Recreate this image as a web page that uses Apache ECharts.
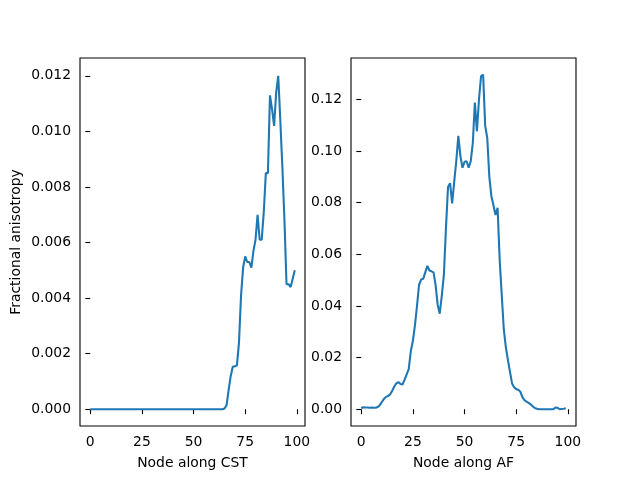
<!DOCTYPE html>
<html>
<head>
<meta charset="utf-8">
<script src="https://cdn.jsdelivr.net/npm/echarts@6/dist/echarts.min.js"></script>
<style>html,body{margin:0;padding:0;background:#fff}#c{width:640px;height:480px}</style>
</head>
<body>
<div id="c"></div>
<script>
const nodes = Array.from({length: 100}, (_, i) => i);
const xTicks = [0, 25, 50, 75, 100];
const cstTicks = [0, 0.002, 0.004, 0.006, 0.008, 0.010, 0.012];
const afTicks = [0, 0.02, 0.04, 0.06, 0.08, 0.10, 0.12];
const cstValues = [
  0,0,0,0,0,0,0,0,0,0,
  0,0,0,0,0,0,0,0,0,0,
  0,0,0,0,0,0,0,0,0,0,
  0,0,0,0,0,0,0,0,0,0,
  0,0,0,0,0,0,0,0,0,0,
  0,0,0,0,0,0,0,0,0,0,
  0,0,0,0,0,0.00003,0.00015,0.0007,0.0012,0.00153,
  0.00155,0.00158,0.0024,0.0041,0.0051,0.0055,0.0053,0.0053,0.0051,0.0057,
  0.0061,0.0070,0.0061,0.0061,0.0071,0.0085,0.0085,0.0113,0.0108,0.0102,
  0.0114,0.0120,0.0104,0.0087,0.0068,0.0045,0.0045,0.0044,0.0047,0.0050
];
const afValues = [
  0.0004,0.0008,0.0007,0.0007,0.0006,0.0007,0.0006,0.0006,0.0009,0.0016,
  0.0028,0.0040,0.0048,0.0051,0.0058,0.0072,0.0088,0.0100,0.0105,0.0098,
  0.0096,0.0115,0.0135,0.0155,0.0225,0.0265,0.0325,0.0400,0.0482,0.0502,
  0.0505,0.0530,0.0555,0.0537,0.0534,0.0530,0.0480,0.0405,0.0370,0.0440,
  0.0520,0.0700,0.0860,0.0875,0.0797,0.0880,0.0960,0.1058,0.0980,0.0935,
  0.0958,0.0960,0.0935,0.0960,0.1030,0.1187,0.1076,0.1200,0.1290,0.1295,
  0.1097,0.1050,0.0900,0.0825,0.0790,0.0752,0.0780,0.0580,0.0444,0.0310,
  0.0240,0.0190,0.0145,0.0100,0.0085,0.0078,0.0076,0.0068,0.0047,0.0035,
  0.0030,0.0025,0.0019,0.0012,0.0005,0.0002,0,0,0,0,
  0,0,0,0,0.0007,0.0006,0,0.0001,0.0002,0.0004
];

const font = 'DejaVu Sans';
const fs = 13.9;
function xAxis(idx, name) {
  return {
    type: 'value', gridIndex: idx, min: -4.95, max: 103.95,
    name: name, nameLocation: 'middle', nameGap: 30,
    nameTextStyle: {fontFamily: font, fontSize: fs, color: '#000'},
    axisLine: {show: false},
    axisTick: {show: true, length: 4.9, lineStyle: {color: '#000', width: 1.1}, customValues: xTicks},
    axisLabel: {fontFamily: font, fontSize: fs, color: '#000', margin: 9, customValues: xTicks},
    splitLine: {show: false}
  };
}
function yAxis(idx, min, max, ticks, digits, name) {
  return {
    type: 'value', gridIndex: idx, min: min, max: max,
    name: name || '', nameLocation: 'middle', nameGap: 57,
    nameTextStyle: {fontFamily: font, fontSize: fs, color: '#000'},
    axisLine: {show: false},
    axisTick: {show: true, length: 4.9, lineStyle: {color: '#000', width: 1.1}, customValues: ticks},
    axisLabel: {fontFamily: font, fontSize: fs, color: '#000', margin: 9, customValues: ticks,
      formatter: v => v.toFixed(digits)},
    splitLine: {show: false}
  };
}
const chart = echarts.init(document.getElementById('c'), null, {renderer: 'canvas'});
chart.setOption({
  backgroundColor: '#fff',
  animation: false,
  grid: [
    {left: 80, right: 335, top: 58, bottom: 54, show: true, borderColor: '#000', borderWidth: 1.1, backgroundColor: 'transparent'},
    {left: 351, right: 64, top: 58, bottom: 54, show: true, borderColor: '#000', borderWidth: 1.1, backgroundColor: 'transparent'}
  ],
  xAxis: [xAxis(0, 'Node along CST'), xAxis(1, 'Node along AF')],
  yAxis: [
    yAxis(0, -0.000602, 0.012642, cstTicks, 3, 'Fractional anisotropy'),
    yAxis(1, -0.006475, 0.135975, afTicks, 2)
  ],
  series: [
    {type: 'line', xAxisIndex: 0, yAxisIndex: 0, data: nodes.map((n, i) => [n, cstValues[i]]),
      showSymbol: false, lineStyle: {color: '#1f77b4', width: 2.08}},
    {type: 'line', xAxisIndex: 1, yAxisIndex: 1, data: nodes.map((n, i) => [n, afValues[i]]),
      showSymbol: false, lineStyle: {color: '#1f77b4', width: 2.08}}
  ]
});
</script>
</body>
</html>
